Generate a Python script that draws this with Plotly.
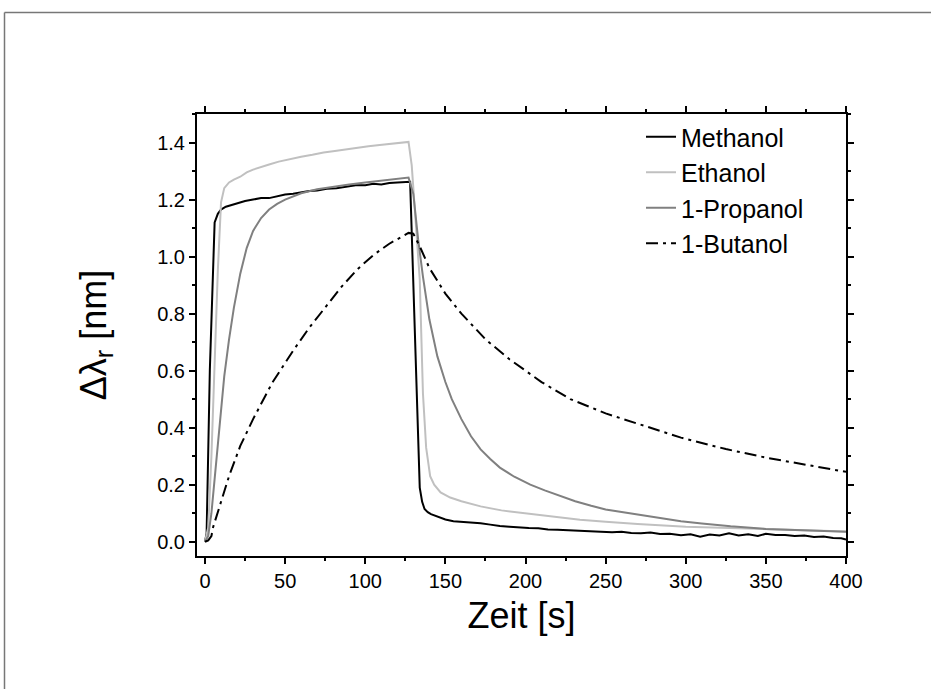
import plotly.graph_objects as go

# ---- data ----
t_meth = [0, 1, 3, 6, 8, 10, 13, 16, 20, 25, 30, 35, 40, 45, 50, 55, 60, 65, 70, 76, 82, 88, 94, 100,
          105, 110, 115, 120, 124, 128, 134, 135.5, 137, 139, 141, 144, 147, 150, 155, 160, 166, 172,
          178, 184, 190, 196, 202, 208, 214, 220, 226, 234, 240, 247, 254, 260, 266, 272, 278, 284,
          290, 297, 303, 309, 315, 321, 327, 333, 339, 345, 350, 356, 362, 368, 374, 380, 386, 392,
          397, 400]
v_meth = [0, 0.03, 0.6, 1.12, 1.15, 1.165, 1.175, 1.18, 1.185, 1.195, 1.2, 1.205, 1.205, 1.212,
          1.218, 1.22, 1.225, 1.23, 1.232, 1.238, 1.24, 1.245, 1.25, 1.25, 1.255, 1.253, 1.258, 1.26,
          1.262, 1.262, 0.19, 0.14, 0.115, 0.104, 0.097, 0.09, 0.085, 0.078, 0.072, 0.07, 0.068,
          0.065, 0.06, 0.055, 0.053, 0.05, 0.048, 0.047, 0.043, 0.042, 0.04, 0.037, 0.036, 0.035,
          0.033, 0.035, 0.031, 0.03, 0.032, 0.027, 0.028, 0.023, 0.026, 0.018, 0.025, 0.022, 0.03,
          0.022, 0.026, 0.02, 0.028, 0.024, 0.024, 0.02, 0.022, 0.017, 0.018, 0.013, 0.012, 0.008]

t_eth = [0, 2, 4, 6, 8, 10, 12, 15, 18, 22, 26, 30, 35, 40, 46, 53, 60, 67, 74, 81, 88, 95, 102, 109,
         116, 122, 127, 129, 131, 134, 136, 138, 140.5, 143, 147, 153, 160, 172, 185, 203, 220, 234,
         250, 270, 300, 325, 350, 375, 400]
v_eth = [0, 0.05, 0.3, 0.62, 0.95, 1.19, 1.24, 1.26, 1.27, 1.28, 1.295, 1.305, 1.315, 1.323, 1.333,
         1.342, 1.35, 1.357, 1.365, 1.37, 1.376, 1.382, 1.387, 1.391, 1.395, 1.398, 1.402, 1.32,
         1.15, 0.92, 0.52, 0.33, 0.23, 0.2, 0.173, 0.155, 0.142, 0.124, 0.11, 0.097, 0.085, 0.077,
         0.07, 0.062, 0.053, 0.048, 0.044, 0.04, 0.036]

t_prop = [0, 2, 4, 6, 8, 10, 12, 15, 18, 22, 26, 30, 35, 40, 45, 50, 60, 70, 80, 90, 100, 110, 120,
          127, 130, 133, 136, 140, 145, 150, 154, 160, 166, 172, 178, 184, 193, 203, 212, 222, 231,
          241, 250, 260, 272, 285, 297, 310, 328, 350, 375, 400]
v_prop = [0, 0.02, 0.1, 0.22, 0.35, 0.47, 0.58, 0.71, 0.82, 0.94, 1.03, 1.09, 1.135, 1.165, 1.185,
          1.2, 1.222, 1.236, 1.245, 1.253, 1.26, 1.266, 1.272, 1.277, 1.22, 1.06, 0.93, 0.78, 0.65,
          0.56, 0.5, 0.43, 0.37, 0.324, 0.29, 0.26, 0.228, 0.2, 0.18, 0.161, 0.142, 0.126, 0.113,
          0.104, 0.093, 0.082, 0.072, 0.064, 0.054, 0.045, 0.039, 0.035]

t_but = [0, 2, 4, 5, 10, 15, 22, 30, 42, 55, 65, 75, 85, 95, 105, 115, 122, 127, 130, 134, 140, 150,
         160, 175, 190, 210, 228, 250, 275, 297, 325, 350, 375, 400]
v_but = [0, 0.005, 0.02, 0.05, 0.14, 0.23, 0.336, 0.43, 0.558, 0.67, 0.75, 0.82, 0.893, 0.955,
         1.005, 1.045, 1.068, 1.083, 1.08, 1.036, 0.96, 0.87, 0.8, 0.71, 0.64, 0.56, 0.5, 0.45,
         0.405, 0.365, 0.325, 0.295, 0.27, 0.245]

series = [
    ("Methanol", t_meth, v_meth, "#000000", "solid"),
    ("Ethanol", t_eth, v_eth, "#c0c0c0", "solid"),
    ("1-Propanol", t_prop, v_prop, "#808080", "solid"),
    ("1-Butanol", t_but, v_but, "#000000", "12px,5px,3px,5px"),
]

W, H = 931, 689
L, R, T, B = 197, 85, 114, 133
pw, ph = W - L - R, H - T - B

fig = go.Figure()
for name, t, v, col, dash in series:
    fig.add_trace(go.Scatter(x=t, y=v, mode="lines", name=name,
                             line=dict(color=col, width=2, dash=dash)))

FONT = "Liberation Sans, Arial, sans-serif"
axis_common = dict(showline=True, linecolor="black", linewidth=2, mirror="ticks",
                   ticks="outside", ticklen=6, tickwidth=1.5, tickcolor="black",
                   showgrid=False, zeroline=False,
                   tickfont=dict(family=FONT, size=20, color="black"))

fig.update_xaxes(range=[-5, 400], dtick=50, tick0=0,
                 minor=dict(ticks="outside", ticklen=3, dtick=25, tickcolor="black", tickwidth=1.5),
                 title=dict(text="Zeit [s]", font=dict(family=FONT, size=36, color="black"), standoff=12),
                 **axis_common)
fig.update_yaxes(range=[-0.05, 1.5], dtick=0.2, tick0=0, tickformat=".1f",
                 minor=dict(ticks="outside", ticklen=3, dtick=0.1, tickcolor="black", tickwidth=1.5),
                 title=dict(text="Δλ<sub>r</sub> [nm]", font=dict(family=FONT, size=36, color="black"), standoff=40),
                 **axis_common)

# outer frame of the figure: only the left and top edges are visible in the reference
fx0 = (4.5 - L) / pw
fy0 = (H - B - 12.5) / ph
frame = dict(color="#777777", width=1.5)
fig.add_shape(type="line", xref="paper", yref="paper", x0=fx0, y0=fy0, x1=2.0, y1=fy0,
              line=frame, layer="below")
fig.add_shape(type="line", xref="paper", yref="paper", x0=fx0, y0=fy0, x1=fx0, y1=-1.0,
              line=frame, layer="below")

fig.update_layout(
    width=W, height=H,
    margin=dict(l=L, r=R, t=T, b=B, autoexpand=False),
    paper_bgcolor="white", plot_bgcolor="white",
    showlegend=True,
    legend=dict(x=(641 - L) / pw, y=1.0, xanchor="left", yanchor="top",
                font=dict(family=FONT, size=25, color="black"),
                bgcolor="rgba(0,0,0,0)", tracegroupgap=0),
)

fig.write_html("out.html")
